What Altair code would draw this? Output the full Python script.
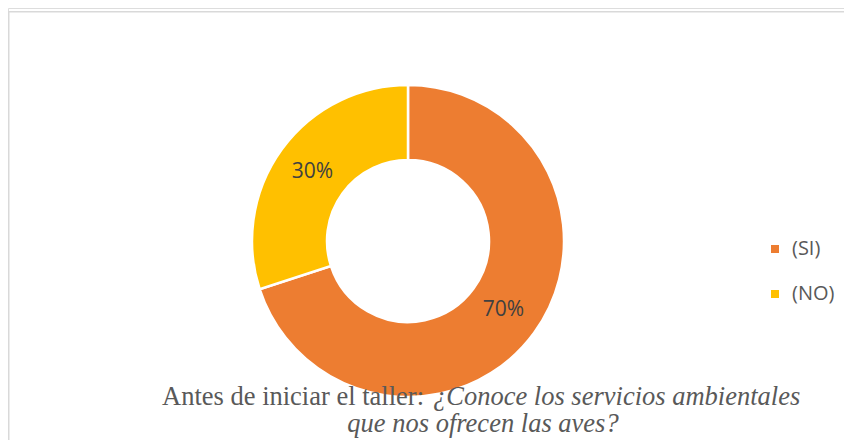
import altair as alt
import pandas as pd

categories = ["(SI)", "(NO)"]
values = [70, 30]
labels = ["70%", "30%"]
colors = ["#ED7D31", "#FFC000"]
title_normal = "Antes de iniciar el taller:"
title_italic_1 = "¿Conoce los servicios ambientales"
title_italic_2 = "que nos ofrecen las aves?"

W, H = 836, 432
CX, CY = 400, 233

df = pd.DataFrame({"cat": categories, "val": values, "lab": labels, "ord": list(range(len(categories)))})
one = pd.DataFrame({"k": [0]})

color_scale = alt.Scale(domain=categories, range=colors)

base = alt.Chart(df).encode(
    theta=alt.Theta("val:Q", stack=True),
    order=alt.Order("ord:Q"),
)

arcs = base.mark_arc(innerRadius=81, outerRadius=156, stroke="white", strokeWidth=2.5).encode(
    color=alt.Color(
        "cat:N",
        scale=color_scale,
        sort=categories,
        legend=alt.Legend(
            title=None,
            orient="none",
            legendX=757,
            legendY=231,
            symbolType="square",
            symbolSize=64,
            symbolStrokeWidth=0,
            labelFontSize=20,
            labelFont="Open Sans",
            labelColor="#595959",
            labelOffset=7,
            rowPadding=25,
            padding=0,
        ),
    ),
    x=alt.value(CX),
    y=alt.value(CY),
)

texts = base.mark_text(font="Open Sans", fontSize=21, color="#404040").encode(
    text="lab:N",
    radius=alt.value(118),
    x=alt.value(CX),
    y=alt.value(CY),
)

t1 = alt.Chart(one).mark_text(font="Liberation Serif", fontSize=26.5, color="#595959", align="right", baseline="alphabetic").encode(
    x=alt.value(416), y=alt.value(397), text=alt.value(title_normal)
)
t2 = alt.Chart(one).mark_text(font="Liberation Serif", fontSize=26.5, fontStyle="italic", color="#595959", align="left", baseline="alphabetic").encode(
    x=alt.value(425), y=alt.value(397), text=alt.value(title_italic_1)
)
t3 = alt.Chart(one).mark_text(font="Liberation Serif", fontSize=26.5, fontStyle="italic", color="#595959", align="center", baseline="alphabetic").encode(
    x=alt.value(475), y=alt.value(424), text=alt.value(title_italic_2)
)

border_top = alt.Chart(one).mark_rule(color="#d9d9d9", strokeWidth=1.5).encode(
    x=alt.value(0), x2=alt.value(W), y=alt.value(3.75)
)
border_left = alt.Chart(one).mark_rule(color="#d9d9d9", strokeWidth=1.5).encode(
    x=alt.value(0.75), y=alt.value(3), y2=alt.value(H)
)

chart = alt.layer(border_top, border_left, arcs, texts, t1, t2, t3).properties(
    width=W,
    height=H,
    autosize=alt.AutoSizeParams(type="none"),
    padding={"left": 0, "top": 0, "right": 0, "bottom": 0},
).configure_view(stroke=None).configure(background="white")

chart.save("out.html", embed_options={"renderer": "svg", "actions": False})
